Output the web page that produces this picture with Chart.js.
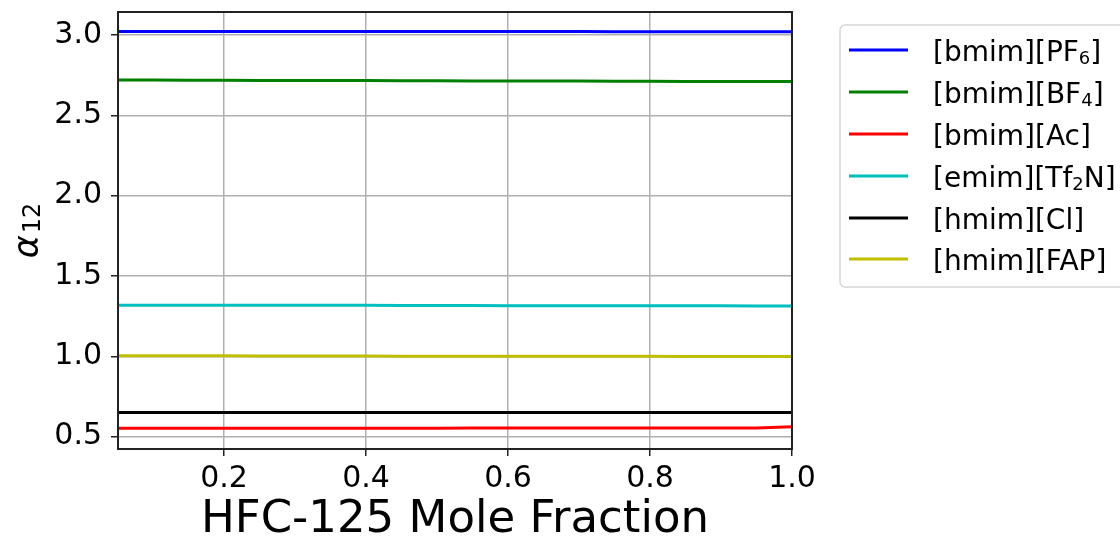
<!DOCTYPE html>
<html>
<head>
<meta charset="utf-8">
<script src="https://cdn.jsdelivr.net/npm/chart.js@4.4.1/dist/chart.umd.min.js"></script>
<style>
  html, body { margin: 0; padding: 0; background: #ffffff; }
  #wrap { width: 1120px; height: 537px; }
</style>
</head>
<body>
<div id="wrap"><canvas id="chart" width="1120" height="537"></canvas></div>
<script>
// HFC-125 mole fraction (x) and selectivity alpha_12 for each ionic liquid
const moleFraction = [0.05, 0.10, 0.15, 0.20, 0.25, 0.30, 0.35, 0.40, 0.45, 0.50,
                      0.55, 0.60, 0.65, 0.70, 0.75, 0.80, 0.85, 0.90, 0.95, 1.00];

const bmimPF6 = [3.021, 3.021, 3.021, 3.021, 3.021, 3.021, 3.021, 3.021, 3.021, 3.021,
                 3.021, 3.021, 3.021, 3.021, 3.020, 3.020, 3.020, 3.020, 3.020, 3.020];
const bmimBF4 = [2.719, 2.719, 2.718, 2.718, 2.717, 2.717, 2.716, 2.716, 2.715, 2.715,
                 2.714, 2.714, 2.713, 2.713, 2.712, 2.712, 2.711, 2.711, 2.710, 2.710];
const bmimAc  = [0.552, 0.552, 0.552, 0.552, 0.552, 0.552, 0.552, 0.552, 0.552, 0.552,
                 0.553, 0.553, 0.553, 0.553, 0.553, 0.553, 0.553, 0.553, 0.554, 0.561];
const emimTf2N = [1.318, 1.318, 1.318, 1.318, 1.317, 1.317, 1.317, 1.317, 1.316, 1.316,
                  1.316, 1.315, 1.315, 1.315, 1.315, 1.314, 1.314, 1.314, 1.313, 1.313];
const hmimCl  = [0.650, 0.650, 0.650, 0.650, 0.650, 0.650, 0.650, 0.650, 0.650, 0.650,
                 0.650, 0.650, 0.650, 0.650, 0.650, 0.650, 0.650, 0.650, 0.650, 0.650];
const hmimFAP = [1.003, 1.003, 1.003, 1.003, 1.002, 1.002, 1.002, 1.002, 1.001, 1.001,
                 1.001, 1.001, 1.000, 1.000, 1.000, 1.000, 0.999, 0.999, 0.999, 0.999];

// legend labels; "_d" marks a subscript digit
const seriesNames = ['[bmim][PF_6]', '[bmim][BF_4]', '[bmim][Ac]', '[emim][Tf_2N]', '[hmim][Cl]', '[hmim][FAP]'];
const seriesValues = [bmimPF6, bmimBF4, bmimAc, emimTf2N, hmimCl, hmimFAP];
const seriesColors = ['#0000ff', '#008000', '#ff0000', '#00bfbf', '#000000', '#bfbf00'];

const xTicks = [0.2, 0.4, 0.6, 0.8, 1.0];
const yTicks = [0.5, 1.0, 1.5, 2.0, 2.5, 3.0];
const xRange = [0.0507, 1.0];
const yRange = [0.423, 3.143];

const xTitle = 'HFC-125 Mole Fraction';
const FONT = '"DejaVu Sans", sans-serif';

// split "abc_6def" into normal / subscript pieces
function splitRich(str) {
  const parts = [];
  const re = /_(\d)/g;
  let last = 0, m;
  while ((m = re.exec(str)) !== null) {
    if (m.index > last) parts.push({ t: str.slice(last, m.index), sub: false });
    parts.push({ t: m[1], sub: true });
    last = re.lastIndex;
  }
  if (last < str.length) parts.push({ t: str.slice(last), sub: false });
  return parts;
}

function drawRich(ctx, str, x, y, size, subSize, subShift) {
  splitRich(str).forEach(p => {
    ctx.font = (p.sub ? subSize : size) + 'px ' + FONT;
    ctx.fillText(p.t, x, p.sub ? y + subShift : y);
    x += ctx.measureText(p.t).width;
  });
}

const decorations = {
  id: 'decorations',
  afterDatasetsDraw(chart) {
    const { ctx, chartArea: a } = chart;
    ctx.save();
    // axes frame
    ctx.strokeStyle = '#222222';
    ctx.lineWidth = 2;
    ctx.strokeRect(a.left, a.top, a.right - a.left, a.bottom - a.top);
    ctx.restore();
  },
  afterDraw(chart) {
    const { ctx, chartArea: a } = chart;
    ctx.save();
    ctx.fillStyle = '#000000';
    ctx.textBaseline = 'alphabetic';

    // x axis title
    ctx.font = '45px ' + FONT;
    ctx.textAlign = 'center';
    ctx.fillText(xTitle, (a.left + a.right) / 2, 532);

    // y axis title: italic alpha with subscript 12
    ctx.textAlign = 'left';
    ctx.save();
    ctx.translate(38, (a.top + a.bottom) / 2);
    ctx.rotate(-Math.PI / 2);
    ctx.font = 'italic 35px ' + FONT;
    const wA = ctx.measureText('α').width;
    ctx.font = '24px ' + FONT;
    const wS = ctx.measureText('12').width;
    let x0 = -(wA + wS + 2) / 2;
    ctx.font = 'italic 35px ' + FONT;
    ctx.fillText('α', x0, 0);
    ctx.font = '24px ' + FONT;
    ctx.fillText('12', x0 + wA + 2, 2);
    ctx.restore();

    // legend box
    const bx = 840, by = 25, bw = 300, bh = 262, r = 5;
    ctx.beginPath();
    ctx.moveTo(bx + r, by);
    ctx.lineTo(bx + bw - r, by);
    ctx.arcTo(bx + bw, by, bx + bw, by + r, r);
    ctx.lineTo(bx + bw, by + bh - r);
    ctx.arcTo(bx + bw, by + bh, bx + bw - r, by + bh, r);
    ctx.lineTo(bx + r, by + bh);
    ctx.arcTo(bx, by + bh, bx, by + bh - r, r);
    ctx.lineTo(bx, by + r);
    ctx.arcTo(bx, by, bx + r, by, r);
    ctx.closePath();
    ctx.fillStyle = 'rgba(255,255,255,0.8)';
    ctx.fill();
    ctx.strokeStyle = '#d6d6d6';
    ctx.lineWidth = 1.5;
    ctx.stroke();

    const rowY = [50, 92, 134, 176, 218, 259];
    seriesNames.forEach((name, i) => {
      ctx.strokeStyle = seriesColors[i];
      ctx.lineWidth = 3;
      ctx.beginPath();
      ctx.moveTo(849, rowY[i]);
      ctx.lineTo(908, rowY[i]);
      ctx.stroke();
      ctx.fillStyle = '#000000';
      drawRich(ctx, name, 933, rowY[i] + 10.5, 28, 18, 3);
    });
    ctx.restore();
  }
};

const datasets = seriesNames.map((name, i) => ({
  label: name.replace(/_(\d)/g, (m, d) => String.fromCharCode(0x2080 + Number(d))),
  data: moleFraction.map((x, k) => ({ x: x, y: seriesValues[i][k] })),
  borderColor: seriesColors[i],
  backgroundColor: seriesColors[i],
  borderWidth: 3,
  pointRadius: 0,
  tension: 0,
  fill: false
}));

const gridStyle = {
  color: '#b0b0b0',
  lineWidth: 1.5,
  tickColor: '#222222',
  tickLength: 7,
  tickWidth: 1.5
};

new Chart(document.getElementById('chart'), {
  type: 'line',
  data: { datasets: datasets },
  options: {
    responsive: false,
    animation: false,
    devicePixelRatio: 1,
    layout: { padding: { left: 0, right: 328, top: 12, bottom: 0 } },
    plugins: {
      legend: { display: false },
      tooltip: { enabled: false }
    },
    scales: {
      x: {
        type: 'linear',
        min: xRange[0],
        max: xRange[1],
        afterBuildTicks: s => { s.ticks = xTicks.map(v => ({ value: v })); },
        afterFit: s => { s.height = 88; s.paddingLeft = 0; s.paddingRight = 0; },
        ticks: {
          callback: v => Number(v).toFixed(1),
          font: { family: FONT, size: 30 },
          color: '#000000',
          padding: 5,
          maxRotation: 0,
          autoSkip: false
        },
        grid: gridStyle,
        border: { display: false }
      },
      y: {
        type: 'linear',
        min: yRange[0],
        max: yRange[1],
        afterBuildTicks: s => { s.ticks = yTicks.map(v => ({ value: v })); },
        afterFit: s => { s.width = 118; s.paddingTop = 0; s.paddingBottom = 0; },
        ticks: {
          callback: v => Number(v).toFixed(1),
          font: { family: FONT, size: 30 },
          color: '#000000',
          padding: 9,
          autoSkip: false
        },
        grid: gridStyle,
        border: { display: false }
      }
    }
  },
  plugins: [decorations]
});
</script>
</body>
</html>
